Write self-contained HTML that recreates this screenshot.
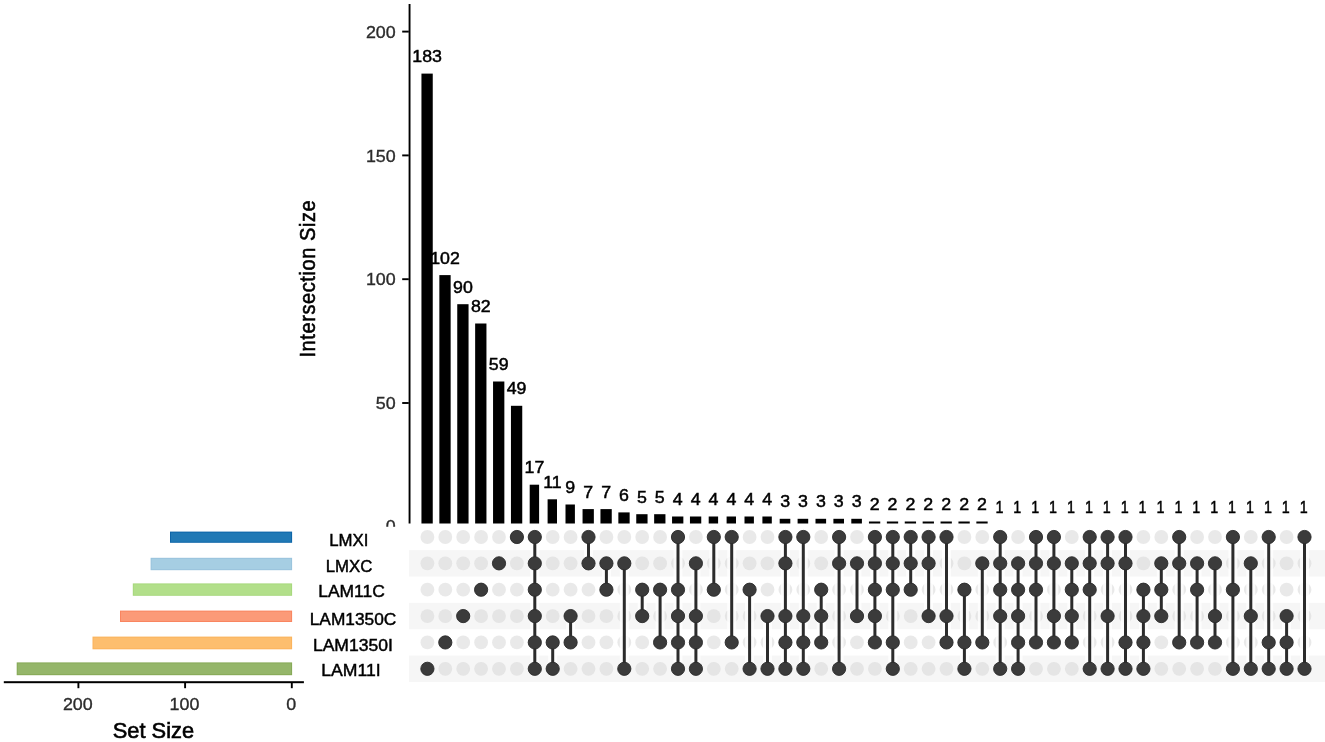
<!DOCTYPE html>
<html lang="en"><head><meta charset="utf-8"><title>UpSet plot</title>
<style>html,body{margin:0;padding:0;background:#fff}body{width:1325px;height:742px;overflow:hidden}svg{display:block;filter:blur(0.45px)}</style>
</head><body>
<svg width="1325" height="742" viewBox="0 0 1325 742" font-family="Liberation Sans, Arial, sans-serif">
<rect width="1325" height="742" fill="#fff"/>
<defs><clipPath id="cz"><rect x="0" y="0" width="405" height="526.7"/></clipPath><clipPath id="cb"><rect x="400" y="0" width="925" height="523.6"/></clipPath></defs>
<g id="isect">
<text transform="translate(315.1,278.6) rotate(-90) scale(1,1.11)" text-anchor="middle" letter-spacing="0.55" font-size="20.1" fill="#000" stroke="#000" stroke-width="0.5">Intersection Size</text>
<g font-size="17" fill="#2c2c2c" stroke="#2c2c2c" stroke-width="0.35" text-anchor="end" clip-path="url(#cz)">
<text transform="translate(395.7,531.8) scale(1.05,1)">0</text>
<text transform="translate(395.7,409.1) scale(1.05,1)">50</text>
<text transform="translate(395.7,285.3) scale(1.05,1)">100</text>
<text transform="translate(395.7,161.5) scale(1.05,1)">150</text>
<text transform="translate(395.7,37.7) scale(1.05,1)">200</text>
</g>
<g clip-path="url(#cb)">
<rect x="408.6" y="4" width="1.9" height="530" fill="#000"/>
<rect x="402.2" y="402.05" width="6.6" height="1.9" fill="#000"/>
<rect x="402.2" y="278.25" width="6.6" height="1.9" fill="#000"/>
<rect x="402.2" y="154.45" width="6.6" height="1.9" fill="#000"/>
<rect x="402.2" y="30.65" width="6.6" height="1.9" fill="#000"/>
<rect x="421.45" y="73.60" width="11.3" height="456.40" fill="#000"/>
<rect x="439.35" y="275.10" width="11.3" height="254.90" fill="#000"/>
<rect x="457.25" y="304.20" width="11.3" height="225.80" fill="#000"/>
<rect x="475.15" y="323.50" width="11.3" height="206.50" fill="#000"/>
<rect x="493.05" y="381.50" width="11.3" height="148.50" fill="#000"/>
<rect x="510.95" y="405.80" width="11.3" height="124.20" fill="#000"/>
<rect x="529.70" y="484.70" width="9.4" height="45.30" fill="#000"/>
<rect x="547.60" y="499.30" width="9.4" height="30.70" fill="#000"/>
<rect x="565.50" y="504.50" width="9.4" height="25.50" fill="#000"/>
<rect x="582.55" y="509.10" width="11.3" height="20.90" fill="#000"/>
<rect x="600.45" y="509.10" width="11.3" height="20.90" fill="#000"/>
<rect x="618.35" y="512.40" width="11.3" height="17.60" fill="#000"/>
<rect x="636.25" y="514.20" width="11.3" height="15.80" fill="#000"/>
<rect x="654.15" y="514.20" width="11.3" height="15.80" fill="#000"/>
<rect x="672.05" y="516.50" width="11.3" height="13.50" fill="#000"/>
<rect x="689.95" y="516.50" width="11.3" height="13.50" fill="#000"/>
<rect x="708.70" y="516.50" width="9.4" height="13.50" fill="#000"/>
<rect x="726.60" y="516.50" width="9.4" height="13.50" fill="#000"/>
<rect x="744.50" y="516.50" width="9.4" height="13.50" fill="#000"/>
<rect x="762.40" y="516.50" width="9.4" height="13.50" fill="#000"/>
<rect x="779.70" y="518.80" width="10.6" height="11.20" fill="#000"/>
<rect x="797.60" y="518.80" width="10.6" height="11.20" fill="#000"/>
<rect x="815.50" y="518.80" width="10.6" height="11.20" fill="#000"/>
<rect x="833.40" y="518.80" width="10.6" height="11.20" fill="#000"/>
<rect x="851.30" y="518.80" width="10.6" height="11.20" fill="#000"/>
<rect x="868.95" y="521.50" width="11.3" height="8.50" fill="#000"/>
<rect x="886.85" y="521.50" width="11.3" height="8.50" fill="#000"/>
<rect x="904.75" y="521.50" width="11.3" height="8.50" fill="#000"/>
<rect x="922.65" y="521.50" width="11.3" height="8.50" fill="#000"/>
<rect x="940.55" y="521.50" width="11.3" height="8.50" fill="#000"/>
<rect x="958.45" y="521.50" width="11.3" height="8.50" fill="#000"/>
<rect x="976.35" y="521.50" width="11.3" height="8.50" fill="#000"/>
<rect x="994.25" y="524.32" width="11.3" height="5.68" fill="#000"/>
<rect x="1012.15" y="524.32" width="11.3" height="5.68" fill="#000"/>
<rect x="1030.05" y="524.32" width="11.3" height="5.68" fill="#000"/>
<rect x="1047.95" y="524.32" width="11.3" height="5.68" fill="#000"/>
<rect x="1065.85" y="524.32" width="11.3" height="5.68" fill="#000"/>
<rect x="1083.75" y="524.32" width="11.3" height="5.68" fill="#000"/>
<rect x="1101.65" y="524.32" width="11.3" height="5.68" fill="#000"/>
<rect x="1119.55" y="524.32" width="11.3" height="5.68" fill="#000"/>
<rect x="1137.45" y="524.32" width="11.3" height="5.68" fill="#000"/>
<rect x="1155.35" y="524.32" width="11.3" height="5.68" fill="#000"/>
<rect x="1173.25" y="524.32" width="11.3" height="5.68" fill="#000"/>
<rect x="1191.15" y="524.32" width="11.3" height="5.68" fill="#000"/>
<rect x="1209.05" y="524.32" width="11.3" height="5.68" fill="#000"/>
<rect x="1226.95" y="524.32" width="11.3" height="5.68" fill="#000"/>
<rect x="1244.85" y="524.32" width="11.3" height="5.68" fill="#000"/>
<rect x="1262.75" y="524.32" width="11.3" height="5.68" fill="#000"/>
<rect x="1280.65" y="524.32" width="11.3" height="5.68" fill="#000"/>
<rect x="1298.55" y="524.32" width="11.3" height="5.68" fill="#000"/>
</g>
<g font-size="15.6" fill="#000" stroke="#000" stroke-width="0.45" text-anchor="middle">
<text transform="translate(427.1,62.2) scale(1.14,1)">183</text>
<text transform="translate(445.0,263.7) scale(1.14,1)">102</text>
<text transform="translate(462.9,292.8) scale(1.14,1)">90</text>
<text transform="translate(480.8,312.1) scale(1.14,1)">82</text>
<text transform="translate(498.7,370.1) scale(1.14,1)">59</text>
<text transform="translate(516.6,394.4) scale(1.14,1)">49</text>
<text transform="translate(534.5,473.3) scale(1.14,1)">17</text>
<text transform="translate(552.4,487.9) scale(1.14,1)">11</text>
<text transform="translate(570.3,493.1) scale(1.14,1)">9</text>
<text transform="translate(588.2,497.7) scale(1.14,1)">7</text>
<text transform="translate(606.1,497.7) scale(1.14,1)">7</text>
<text transform="translate(624.0,501.0) scale(1.14,1)">6</text>
<text transform="translate(641.9,502.8) scale(1.14,1)">5</text>
<text transform="translate(659.8,502.8) scale(1.14,1)">5</text>
<text transform="translate(677.7,505.1) scale(1.14,1)">4</text>
<text transform="translate(695.6,505.1) scale(1.14,1)">4</text>
<text transform="translate(713.5,505.1) scale(1.14,1)">4</text>
<text transform="translate(731.4,505.1) scale(1.14,1)">4</text>
<text transform="translate(749.3,505.1) scale(1.14,1)">4</text>
<text transform="translate(767.2,505.1) scale(1.14,1)">4</text>
<text transform="translate(785.1,507.4) scale(1.14,1)">3</text>
<text transform="translate(803.0,507.4) scale(1.14,1)">3</text>
<text transform="translate(820.9,507.4) scale(1.14,1)">3</text>
<text transform="translate(838.8,507.4) scale(1.14,1)">3</text>
<text transform="translate(856.7,507.4) scale(1.14,1)">3</text>
<text transform="translate(874.6,510.1) scale(1.14,1)">2</text>
<text transform="translate(892.5,510.1) scale(1.14,1)">2</text>
<text transform="translate(910.4,510.1) scale(1.14,1)">2</text>
<text transform="translate(928.3,510.1) scale(1.14,1)">2</text>
<text transform="translate(946.2,510.1) scale(1.14,1)">2</text>
<text transform="translate(964.1,510.1) scale(1.14,1)">2</text>
<text transform="translate(982.0,510.1) scale(1.14,1)">2</text>
<text transform="translate(999.4,512.9) scale(0.92,1)">1</text>
<text transform="translate(1017.3,512.9) scale(0.92,1)">1</text>
<text transform="translate(1035.2,512.9) scale(0.92,1)">1</text>
<text transform="translate(1053.1,512.9) scale(0.92,1)">1</text>
<text transform="translate(1071.0,512.9) scale(0.92,1)">1</text>
<text transform="translate(1088.9,512.9) scale(0.92,1)">1</text>
<text transform="translate(1106.8,512.9) scale(0.92,1)">1</text>
<text transform="translate(1124.7,512.9) scale(0.92,1)">1</text>
<text transform="translate(1142.6,512.9) scale(0.92,1)">1</text>
<text transform="translate(1160.5,512.9) scale(0.92,1)">1</text>
<text transform="translate(1178.4,512.9) scale(0.92,1)">1</text>
<text transform="translate(1196.3,512.9) scale(0.92,1)">1</text>
<text transform="translate(1214.2,512.9) scale(0.92,1)">1</text>
<text transform="translate(1232.1,512.9) scale(0.92,1)">1</text>
<text transform="translate(1250.0,512.9) scale(0.92,1)">1</text>
<text transform="translate(1267.9,512.9) scale(0.92,1)">1</text>
<text transform="translate(1285.8,512.9) scale(0.92,1)">1</text>
<text transform="translate(1303.7,512.9) scale(0.92,1)">1</text>
</g></g>
<g id="matrix">
<rect x="409" y="550.16" width="916" height="26.4" fill="#f6f6f6"/>
<rect x="409" y="602.88" width="916" height="26.4" fill="#f6f6f6"/>
<rect x="409" y="655.60" width="916" height="26.4" fill="#f6f6f6"/>
<g fill="#d4d4d4" fill-opacity="0.5">
<circle cx="427.4" cy="537.00" r="6.9"/>
<circle cx="427.4" cy="563.36" r="6.9"/>
<circle cx="427.4" cy="589.72" r="6.9"/>
<circle cx="427.4" cy="616.08" r="6.9"/>
<circle cx="427.4" cy="642.44" r="6.9"/>
<circle cx="427.4" cy="668.80" r="6.9"/>
<circle cx="445.3" cy="537.00" r="6.9"/>
<circle cx="445.3" cy="563.36" r="6.9"/>
<circle cx="445.3" cy="589.72" r="6.9"/>
<circle cx="445.3" cy="616.08" r="6.9"/>
<circle cx="445.3" cy="642.44" r="6.9"/>
<circle cx="445.3" cy="668.80" r="6.9"/>
<circle cx="463.2" cy="537.00" r="6.9"/>
<circle cx="463.2" cy="563.36" r="6.9"/>
<circle cx="463.2" cy="589.72" r="6.9"/>
<circle cx="463.2" cy="616.08" r="6.9"/>
<circle cx="463.2" cy="642.44" r="6.9"/>
<circle cx="463.2" cy="668.80" r="6.9"/>
<circle cx="481.1" cy="537.00" r="6.9"/>
<circle cx="481.1" cy="563.36" r="6.9"/>
<circle cx="481.1" cy="589.72" r="6.9"/>
<circle cx="481.1" cy="616.08" r="6.9"/>
<circle cx="481.1" cy="642.44" r="6.9"/>
<circle cx="481.1" cy="668.80" r="6.9"/>
<circle cx="499.0" cy="537.00" r="6.9"/>
<circle cx="499.0" cy="563.36" r="6.9"/>
<circle cx="499.0" cy="589.72" r="6.9"/>
<circle cx="499.0" cy="616.08" r="6.9"/>
<circle cx="499.0" cy="642.44" r="6.9"/>
<circle cx="499.0" cy="668.80" r="6.9"/>
<circle cx="516.9" cy="537.00" r="6.9"/>
<circle cx="516.9" cy="563.36" r="6.9"/>
<circle cx="516.9" cy="589.72" r="6.9"/>
<circle cx="516.9" cy="616.08" r="6.9"/>
<circle cx="516.9" cy="642.44" r="6.9"/>
<circle cx="516.9" cy="668.80" r="6.9"/>
<circle cx="534.8" cy="537.00" r="6.9"/>
<circle cx="534.8" cy="563.36" r="6.9"/>
<circle cx="534.8" cy="589.72" r="6.9"/>
<circle cx="534.8" cy="616.08" r="6.9"/>
<circle cx="534.8" cy="642.44" r="6.9"/>
<circle cx="534.8" cy="668.80" r="6.9"/>
<circle cx="552.7" cy="537.00" r="6.9"/>
<circle cx="552.7" cy="563.36" r="6.9"/>
<circle cx="552.7" cy="589.72" r="6.9"/>
<circle cx="552.7" cy="616.08" r="6.9"/>
<circle cx="552.7" cy="642.44" r="6.9"/>
<circle cx="552.7" cy="668.80" r="6.9"/>
<circle cx="570.6" cy="537.00" r="6.9"/>
<circle cx="570.6" cy="563.36" r="6.9"/>
<circle cx="570.6" cy="589.72" r="6.9"/>
<circle cx="570.6" cy="616.08" r="6.9"/>
<circle cx="570.6" cy="642.44" r="6.9"/>
<circle cx="570.6" cy="668.80" r="6.9"/>
<circle cx="588.5" cy="537.00" r="6.9"/>
<circle cx="588.5" cy="563.36" r="6.9"/>
<circle cx="588.5" cy="589.72" r="6.9"/>
<circle cx="588.5" cy="616.08" r="6.9"/>
<circle cx="588.5" cy="642.44" r="6.9"/>
<circle cx="588.5" cy="668.80" r="6.9"/>
<circle cx="606.4" cy="537.00" r="6.9"/>
<circle cx="606.4" cy="563.36" r="6.9"/>
<circle cx="606.4" cy="589.72" r="6.9"/>
<circle cx="606.4" cy="616.08" r="6.9"/>
<circle cx="606.4" cy="642.44" r="6.9"/>
<circle cx="606.4" cy="668.80" r="6.9"/>
<circle cx="624.3" cy="537.00" r="6.9"/>
<circle cx="624.3" cy="563.36" r="6.9"/>
<circle cx="624.3" cy="589.72" r="6.9"/>
<circle cx="624.3" cy="616.08" r="6.9"/>
<circle cx="624.3" cy="642.44" r="6.9"/>
<circle cx="624.3" cy="668.80" r="6.9"/>
<circle cx="642.2" cy="537.00" r="6.9"/>
<circle cx="642.2" cy="563.36" r="6.9"/>
<circle cx="642.2" cy="589.72" r="6.9"/>
<circle cx="642.2" cy="616.08" r="6.9"/>
<circle cx="642.2" cy="642.44" r="6.9"/>
<circle cx="642.2" cy="668.80" r="6.9"/>
<circle cx="660.1" cy="537.00" r="6.9"/>
<circle cx="660.1" cy="563.36" r="6.9"/>
<circle cx="660.1" cy="589.72" r="6.9"/>
<circle cx="660.1" cy="616.08" r="6.9"/>
<circle cx="660.1" cy="642.44" r="6.9"/>
<circle cx="660.1" cy="668.80" r="6.9"/>
<circle cx="678.0" cy="537.00" r="6.9"/>
<circle cx="678.0" cy="563.36" r="6.9"/>
<circle cx="678.0" cy="589.72" r="6.9"/>
<circle cx="678.0" cy="616.08" r="6.9"/>
<circle cx="678.0" cy="642.44" r="6.9"/>
<circle cx="678.0" cy="668.80" r="6.9"/>
<circle cx="695.9" cy="537.00" r="6.9"/>
<circle cx="695.9" cy="563.36" r="6.9"/>
<circle cx="695.9" cy="589.72" r="6.9"/>
<circle cx="695.9" cy="616.08" r="6.9"/>
<circle cx="695.9" cy="642.44" r="6.9"/>
<circle cx="695.9" cy="668.80" r="6.9"/>
<circle cx="713.8" cy="537.00" r="6.9"/>
<circle cx="713.8" cy="563.36" r="6.9"/>
<circle cx="713.8" cy="589.72" r="6.9"/>
<circle cx="713.8" cy="616.08" r="6.9"/>
<circle cx="713.8" cy="642.44" r="6.9"/>
<circle cx="713.8" cy="668.80" r="6.9"/>
<circle cx="731.7" cy="537.00" r="6.9"/>
<circle cx="731.7" cy="563.36" r="6.9"/>
<circle cx="731.7" cy="589.72" r="6.9"/>
<circle cx="731.7" cy="616.08" r="6.9"/>
<circle cx="731.7" cy="642.44" r="6.9"/>
<circle cx="731.7" cy="668.80" r="6.9"/>
<circle cx="749.6" cy="537.00" r="6.9"/>
<circle cx="749.6" cy="563.36" r="6.9"/>
<circle cx="749.6" cy="589.72" r="6.9"/>
<circle cx="749.6" cy="616.08" r="6.9"/>
<circle cx="749.6" cy="642.44" r="6.9"/>
<circle cx="749.6" cy="668.80" r="6.9"/>
<circle cx="767.5" cy="537.00" r="6.9"/>
<circle cx="767.5" cy="563.36" r="6.9"/>
<circle cx="767.5" cy="589.72" r="6.9"/>
<circle cx="767.5" cy="616.08" r="6.9"/>
<circle cx="767.5" cy="642.44" r="6.9"/>
<circle cx="767.5" cy="668.80" r="6.9"/>
<circle cx="785.4" cy="537.00" r="6.9"/>
<circle cx="785.4" cy="563.36" r="6.9"/>
<circle cx="785.4" cy="589.72" r="6.9"/>
<circle cx="785.4" cy="616.08" r="6.9"/>
<circle cx="785.4" cy="642.44" r="6.9"/>
<circle cx="785.4" cy="668.80" r="6.9"/>
<circle cx="803.3" cy="537.00" r="6.9"/>
<circle cx="803.3" cy="563.36" r="6.9"/>
<circle cx="803.3" cy="589.72" r="6.9"/>
<circle cx="803.3" cy="616.08" r="6.9"/>
<circle cx="803.3" cy="642.44" r="6.9"/>
<circle cx="803.3" cy="668.80" r="6.9"/>
<circle cx="821.2" cy="537.00" r="6.9"/>
<circle cx="821.2" cy="563.36" r="6.9"/>
<circle cx="821.2" cy="589.72" r="6.9"/>
<circle cx="821.2" cy="616.08" r="6.9"/>
<circle cx="821.2" cy="642.44" r="6.9"/>
<circle cx="821.2" cy="668.80" r="6.9"/>
<circle cx="839.1" cy="537.00" r="6.9"/>
<circle cx="839.1" cy="563.36" r="6.9"/>
<circle cx="839.1" cy="589.72" r="6.9"/>
<circle cx="839.1" cy="616.08" r="6.9"/>
<circle cx="839.1" cy="642.44" r="6.9"/>
<circle cx="839.1" cy="668.80" r="6.9"/>
<circle cx="857.0" cy="537.00" r="6.9"/>
<circle cx="857.0" cy="563.36" r="6.9"/>
<circle cx="857.0" cy="589.72" r="6.9"/>
<circle cx="857.0" cy="616.08" r="6.9"/>
<circle cx="857.0" cy="642.44" r="6.9"/>
<circle cx="857.0" cy="668.80" r="6.9"/>
<circle cx="874.9" cy="537.00" r="6.9"/>
<circle cx="874.9" cy="563.36" r="6.9"/>
<circle cx="874.9" cy="589.72" r="6.9"/>
<circle cx="874.9" cy="616.08" r="6.9"/>
<circle cx="874.9" cy="642.44" r="6.9"/>
<circle cx="874.9" cy="668.80" r="6.9"/>
<circle cx="892.8" cy="537.00" r="6.9"/>
<circle cx="892.8" cy="563.36" r="6.9"/>
<circle cx="892.8" cy="589.72" r="6.9"/>
<circle cx="892.8" cy="616.08" r="6.9"/>
<circle cx="892.8" cy="642.44" r="6.9"/>
<circle cx="892.8" cy="668.80" r="6.9"/>
<circle cx="910.7" cy="537.00" r="6.9"/>
<circle cx="910.7" cy="563.36" r="6.9"/>
<circle cx="910.7" cy="589.72" r="6.9"/>
<circle cx="910.7" cy="616.08" r="6.9"/>
<circle cx="910.7" cy="642.44" r="6.9"/>
<circle cx="910.7" cy="668.80" r="6.9"/>
<circle cx="928.6" cy="537.00" r="6.9"/>
<circle cx="928.6" cy="563.36" r="6.9"/>
<circle cx="928.6" cy="589.72" r="6.9"/>
<circle cx="928.6" cy="616.08" r="6.9"/>
<circle cx="928.6" cy="642.44" r="6.9"/>
<circle cx="928.6" cy="668.80" r="6.9"/>
<circle cx="946.5" cy="537.00" r="6.9"/>
<circle cx="946.5" cy="563.36" r="6.9"/>
<circle cx="946.5" cy="589.72" r="6.9"/>
<circle cx="946.5" cy="616.08" r="6.9"/>
<circle cx="946.5" cy="642.44" r="6.9"/>
<circle cx="946.5" cy="668.80" r="6.9"/>
<circle cx="964.4" cy="537.00" r="6.9"/>
<circle cx="964.4" cy="563.36" r="6.9"/>
<circle cx="964.4" cy="589.72" r="6.9"/>
<circle cx="964.4" cy="616.08" r="6.9"/>
<circle cx="964.4" cy="642.44" r="6.9"/>
<circle cx="964.4" cy="668.80" r="6.9"/>
<circle cx="982.3" cy="537.00" r="6.9"/>
<circle cx="982.3" cy="563.36" r="6.9"/>
<circle cx="982.3" cy="589.72" r="6.9"/>
<circle cx="982.3" cy="616.08" r="6.9"/>
<circle cx="982.3" cy="642.44" r="6.9"/>
<circle cx="982.3" cy="668.80" r="6.9"/>
<circle cx="1000.2" cy="537.00" r="6.9"/>
<circle cx="1000.2" cy="563.36" r="6.9"/>
<circle cx="1000.2" cy="589.72" r="6.9"/>
<circle cx="1000.2" cy="616.08" r="6.9"/>
<circle cx="1000.2" cy="642.44" r="6.9"/>
<circle cx="1000.2" cy="668.80" r="6.9"/>
<circle cx="1018.1" cy="537.00" r="6.9"/>
<circle cx="1018.1" cy="563.36" r="6.9"/>
<circle cx="1018.1" cy="589.72" r="6.9"/>
<circle cx="1018.1" cy="616.08" r="6.9"/>
<circle cx="1018.1" cy="642.44" r="6.9"/>
<circle cx="1018.1" cy="668.80" r="6.9"/>
<circle cx="1036.0" cy="537.00" r="6.9"/>
<circle cx="1036.0" cy="563.36" r="6.9"/>
<circle cx="1036.0" cy="589.72" r="6.9"/>
<circle cx="1036.0" cy="616.08" r="6.9"/>
<circle cx="1036.0" cy="642.44" r="6.9"/>
<circle cx="1036.0" cy="668.80" r="6.9"/>
<circle cx="1053.9" cy="537.00" r="6.9"/>
<circle cx="1053.9" cy="563.36" r="6.9"/>
<circle cx="1053.9" cy="589.72" r="6.9"/>
<circle cx="1053.9" cy="616.08" r="6.9"/>
<circle cx="1053.9" cy="642.44" r="6.9"/>
<circle cx="1053.9" cy="668.80" r="6.9"/>
<circle cx="1071.8" cy="537.00" r="6.9"/>
<circle cx="1071.8" cy="563.36" r="6.9"/>
<circle cx="1071.8" cy="589.72" r="6.9"/>
<circle cx="1071.8" cy="616.08" r="6.9"/>
<circle cx="1071.8" cy="642.44" r="6.9"/>
<circle cx="1071.8" cy="668.80" r="6.9"/>
<circle cx="1089.7" cy="537.00" r="6.9"/>
<circle cx="1089.7" cy="563.36" r="6.9"/>
<circle cx="1089.7" cy="589.72" r="6.9"/>
<circle cx="1089.7" cy="616.08" r="6.9"/>
<circle cx="1089.7" cy="642.44" r="6.9"/>
<circle cx="1089.7" cy="668.80" r="6.9"/>
<circle cx="1107.6" cy="537.00" r="6.9"/>
<circle cx="1107.6" cy="563.36" r="6.9"/>
<circle cx="1107.6" cy="589.72" r="6.9"/>
<circle cx="1107.6" cy="616.08" r="6.9"/>
<circle cx="1107.6" cy="642.44" r="6.9"/>
<circle cx="1107.6" cy="668.80" r="6.9"/>
<circle cx="1125.5" cy="537.00" r="6.9"/>
<circle cx="1125.5" cy="563.36" r="6.9"/>
<circle cx="1125.5" cy="589.72" r="6.9"/>
<circle cx="1125.5" cy="616.08" r="6.9"/>
<circle cx="1125.5" cy="642.44" r="6.9"/>
<circle cx="1125.5" cy="668.80" r="6.9"/>
<circle cx="1143.4" cy="537.00" r="6.9"/>
<circle cx="1143.4" cy="563.36" r="6.9"/>
<circle cx="1143.4" cy="589.72" r="6.9"/>
<circle cx="1143.4" cy="616.08" r="6.9"/>
<circle cx="1143.4" cy="642.44" r="6.9"/>
<circle cx="1143.4" cy="668.80" r="6.9"/>
<circle cx="1161.3" cy="537.00" r="6.9"/>
<circle cx="1161.3" cy="563.36" r="6.9"/>
<circle cx="1161.3" cy="589.72" r="6.9"/>
<circle cx="1161.3" cy="616.08" r="6.9"/>
<circle cx="1161.3" cy="642.44" r="6.9"/>
<circle cx="1161.3" cy="668.80" r="6.9"/>
<circle cx="1179.2" cy="537.00" r="6.9"/>
<circle cx="1179.2" cy="563.36" r="6.9"/>
<circle cx="1179.2" cy="589.72" r="6.9"/>
<circle cx="1179.2" cy="616.08" r="6.9"/>
<circle cx="1179.2" cy="642.44" r="6.9"/>
<circle cx="1179.2" cy="668.80" r="6.9"/>
<circle cx="1197.1" cy="537.00" r="6.9"/>
<circle cx="1197.1" cy="563.36" r="6.9"/>
<circle cx="1197.1" cy="589.72" r="6.9"/>
<circle cx="1197.1" cy="616.08" r="6.9"/>
<circle cx="1197.1" cy="642.44" r="6.9"/>
<circle cx="1197.1" cy="668.80" r="6.9"/>
<circle cx="1215.0" cy="537.00" r="6.9"/>
<circle cx="1215.0" cy="563.36" r="6.9"/>
<circle cx="1215.0" cy="589.72" r="6.9"/>
<circle cx="1215.0" cy="616.08" r="6.9"/>
<circle cx="1215.0" cy="642.44" r="6.9"/>
<circle cx="1215.0" cy="668.80" r="6.9"/>
<circle cx="1232.9" cy="537.00" r="6.9"/>
<circle cx="1232.9" cy="563.36" r="6.9"/>
<circle cx="1232.9" cy="589.72" r="6.9"/>
<circle cx="1232.9" cy="616.08" r="6.9"/>
<circle cx="1232.9" cy="642.44" r="6.9"/>
<circle cx="1232.9" cy="668.80" r="6.9"/>
<circle cx="1250.8" cy="537.00" r="6.9"/>
<circle cx="1250.8" cy="563.36" r="6.9"/>
<circle cx="1250.8" cy="589.72" r="6.9"/>
<circle cx="1250.8" cy="616.08" r="6.9"/>
<circle cx="1250.8" cy="642.44" r="6.9"/>
<circle cx="1250.8" cy="668.80" r="6.9"/>
<circle cx="1268.7" cy="537.00" r="6.9"/>
<circle cx="1268.7" cy="563.36" r="6.9"/>
<circle cx="1268.7" cy="589.72" r="6.9"/>
<circle cx="1268.7" cy="616.08" r="6.9"/>
<circle cx="1268.7" cy="642.44" r="6.9"/>
<circle cx="1268.7" cy="668.80" r="6.9"/>
<circle cx="1286.6" cy="537.00" r="6.9"/>
<circle cx="1286.6" cy="563.36" r="6.9"/>
<circle cx="1286.6" cy="589.72" r="6.9"/>
<circle cx="1286.6" cy="616.08" r="6.9"/>
<circle cx="1286.6" cy="642.44" r="6.9"/>
<circle cx="1286.6" cy="668.80" r="6.9"/>
<circle cx="1304.5" cy="537.00" r="6.9"/>
<circle cx="1304.5" cy="563.36" r="6.9"/>
<circle cx="1304.5" cy="589.72" r="6.9"/>
<circle cx="1304.5" cy="616.08" r="6.9"/>
<circle cx="1304.5" cy="642.44" r="6.9"/>
<circle cx="1304.5" cy="668.80" r="6.9"/>
</g>
<g stroke="#fff" stroke-width="9" stroke-opacity="0.8">
<line x1="534.8" x2="534.8" y1="537.00" y2="668.80"/>
<line x1="552.7" x2="552.7" y1="642.44" y2="668.80"/>
<line x1="570.6" x2="570.6" y1="616.08" y2="642.44"/>
<line x1="588.5" x2="588.5" y1="537.00" y2="563.36"/>
<line x1="606.4" x2="606.4" y1="563.36" y2="589.72"/>
<line x1="624.3" x2="624.3" y1="563.36" y2="668.80"/>
<line x1="642.2" x2="642.2" y1="589.72" y2="616.08"/>
<line x1="660.1" x2="660.1" y1="589.72" y2="642.44"/>
<line x1="678.0" x2="678.0" y1="537.00" y2="668.80"/>
<line x1="695.9" x2="695.9" y1="563.36" y2="668.80"/>
<line x1="713.8" x2="713.8" y1="537.00" y2="589.72"/>
<line x1="731.7" x2="731.7" y1="537.00" y2="642.44"/>
<line x1="749.6" x2="749.6" y1="589.72" y2="668.80"/>
<line x1="767.5" x2="767.5" y1="616.08" y2="668.80"/>
<line x1="785.4" x2="785.4" y1="537.00" y2="668.80"/>
<line x1="803.3" x2="803.3" y1="537.00" y2="668.80"/>
<line x1="821.2" x2="821.2" y1="589.72" y2="642.44"/>
<line x1="839.1" x2="839.1" y1="537.00" y2="668.80"/>
<line x1="857.0" x2="857.0" y1="563.36" y2="616.08"/>
<line x1="874.9" x2="874.9" y1="537.00" y2="642.44"/>
<line x1="892.8" x2="892.8" y1="537.00" y2="668.80"/>
<line x1="910.7" x2="910.7" y1="537.00" y2="589.72"/>
<line x1="928.6" x2="928.6" y1="537.00" y2="616.08"/>
<line x1="946.5" x2="946.5" y1="537.00" y2="642.44"/>
<line x1="964.4" x2="964.4" y1="589.72" y2="668.80"/>
<line x1="982.3" x2="982.3" y1="563.36" y2="642.44"/>
<line x1="1000.2" x2="1000.2" y1="537.00" y2="668.80"/>
<line x1="1018.1" x2="1018.1" y1="563.36" y2="668.80"/>
<line x1="1036.0" x2="1036.0" y1="537.00" y2="642.44"/>
<line x1="1053.9" x2="1053.9" y1="537.00" y2="642.44"/>
<line x1="1071.8" x2="1071.8" y1="563.36" y2="642.44"/>
<line x1="1089.7" x2="1089.7" y1="537.00" y2="668.80"/>
<line x1="1107.6" x2="1107.6" y1="537.00" y2="668.80"/>
<line x1="1125.5" x2="1125.5" y1="537.00" y2="668.80"/>
<line x1="1143.4" x2="1143.4" y1="589.72" y2="668.80"/>
<line x1="1161.3" x2="1161.3" y1="563.36" y2="616.08"/>
<line x1="1179.2" x2="1179.2" y1="537.00" y2="642.44"/>
<line x1="1197.1" x2="1197.1" y1="563.36" y2="642.44"/>
<line x1="1215.0" x2="1215.0" y1="563.36" y2="642.44"/>
<line x1="1232.9" x2="1232.9" y1="537.00" y2="668.80"/>
<line x1="1250.8" x2="1250.8" y1="563.36" y2="668.80"/>
<line x1="1268.7" x2="1268.7" y1="537.00" y2="668.80"/>
<line x1="1286.6" x2="1286.6" y1="616.08" y2="668.80"/>
<line x1="1304.5" x2="1304.5" y1="537.00" y2="668.80"/>
</g>
<g stroke="#2c2c2c" stroke-width="3">
<line x1="534.8" x2="534.8" y1="537.00" y2="668.80"/>
<line x1="552.7" x2="552.7" y1="642.44" y2="668.80"/>
<line x1="570.6" x2="570.6" y1="616.08" y2="642.44"/>
<line x1="588.5" x2="588.5" y1="537.00" y2="563.36"/>
<line x1="606.4" x2="606.4" y1="563.36" y2="589.72"/>
<line x1="624.3" x2="624.3" y1="563.36" y2="668.80"/>
<line x1="642.2" x2="642.2" y1="589.72" y2="616.08"/>
<line x1="660.1" x2="660.1" y1="589.72" y2="642.44"/>
<line x1="678.0" x2="678.0" y1="537.00" y2="668.80"/>
<line x1="695.9" x2="695.9" y1="563.36" y2="668.80"/>
<line x1="713.8" x2="713.8" y1="537.00" y2="589.72"/>
<line x1="731.7" x2="731.7" y1="537.00" y2="642.44"/>
<line x1="749.6" x2="749.6" y1="589.72" y2="668.80"/>
<line x1="767.5" x2="767.5" y1="616.08" y2="668.80"/>
<line x1="785.4" x2="785.4" y1="537.00" y2="668.80"/>
<line x1="803.3" x2="803.3" y1="537.00" y2="668.80"/>
<line x1="821.2" x2="821.2" y1="589.72" y2="642.44"/>
<line x1="839.1" x2="839.1" y1="537.00" y2="668.80"/>
<line x1="857.0" x2="857.0" y1="563.36" y2="616.08"/>
<line x1="874.9" x2="874.9" y1="537.00" y2="642.44"/>
<line x1="892.8" x2="892.8" y1="537.00" y2="668.80"/>
<line x1="910.7" x2="910.7" y1="537.00" y2="589.72"/>
<line x1="928.6" x2="928.6" y1="537.00" y2="616.08"/>
<line x1="946.5" x2="946.5" y1="537.00" y2="642.44"/>
<line x1="964.4" x2="964.4" y1="589.72" y2="668.80"/>
<line x1="982.3" x2="982.3" y1="563.36" y2="642.44"/>
<line x1="1000.2" x2="1000.2" y1="537.00" y2="668.80"/>
<line x1="1018.1" x2="1018.1" y1="563.36" y2="668.80"/>
<line x1="1036.0" x2="1036.0" y1="537.00" y2="642.44"/>
<line x1="1053.9" x2="1053.9" y1="537.00" y2="642.44"/>
<line x1="1071.8" x2="1071.8" y1="563.36" y2="642.44"/>
<line x1="1089.7" x2="1089.7" y1="537.00" y2="668.80"/>
<line x1="1107.6" x2="1107.6" y1="537.00" y2="668.80"/>
<line x1="1125.5" x2="1125.5" y1="537.00" y2="668.80"/>
<line x1="1143.4" x2="1143.4" y1="589.72" y2="668.80"/>
<line x1="1161.3" x2="1161.3" y1="563.36" y2="616.08"/>
<line x1="1179.2" x2="1179.2" y1="537.00" y2="642.44"/>
<line x1="1197.1" x2="1197.1" y1="563.36" y2="642.44"/>
<line x1="1215.0" x2="1215.0" y1="563.36" y2="642.44"/>
<line x1="1232.9" x2="1232.9" y1="537.00" y2="668.80"/>
<line x1="1250.8" x2="1250.8" y1="563.36" y2="668.80"/>
<line x1="1268.7" x2="1268.7" y1="537.00" y2="668.80"/>
<line x1="1286.6" x2="1286.6" y1="616.08" y2="668.80"/>
<line x1="1304.5" x2="1304.5" y1="537.00" y2="668.80"/>
</g><g fill="#3b3b3b" stroke="#2a2a2a" stroke-width="0.9">
<circle cx="427.4" cy="668.80" r="6.6"/>
<circle cx="445.3" cy="642.44" r="6.6"/>
<circle cx="463.2" cy="616.08" r="6.6"/>
<circle cx="481.1" cy="589.72" r="6.6"/>
<circle cx="499.0" cy="563.36" r="6.6"/>
<circle cx="516.9" cy="537.00" r="6.6"/>
<circle cx="534.8" cy="537.00" r="6.6"/>
<circle cx="534.8" cy="563.36" r="6.6"/>
<circle cx="534.8" cy="589.72" r="6.6"/>
<circle cx="534.8" cy="616.08" r="6.6"/>
<circle cx="534.8" cy="642.44" r="6.6"/>
<circle cx="534.8" cy="668.80" r="6.6"/>
<circle cx="552.7" cy="642.44" r="6.6"/>
<circle cx="552.7" cy="668.80" r="6.6"/>
<circle cx="570.6" cy="616.08" r="6.6"/>
<circle cx="570.6" cy="642.44" r="6.6"/>
<circle cx="588.5" cy="537.00" r="6.6"/>
<circle cx="588.5" cy="563.36" r="6.6"/>
<circle cx="606.4" cy="563.36" r="6.6"/>
<circle cx="606.4" cy="589.72" r="6.6"/>
<circle cx="624.3" cy="563.36" r="6.6"/>
<circle cx="624.3" cy="668.80" r="6.6"/>
<circle cx="642.2" cy="589.72" r="6.6"/>
<circle cx="642.2" cy="616.08" r="6.6"/>
<circle cx="660.1" cy="589.72" r="6.6"/>
<circle cx="660.1" cy="642.44" r="6.6"/>
<circle cx="678.0" cy="537.00" r="6.6"/>
<circle cx="678.0" cy="589.72" r="6.6"/>
<circle cx="678.0" cy="616.08" r="6.6"/>
<circle cx="678.0" cy="642.44" r="6.6"/>
<circle cx="678.0" cy="668.80" r="6.6"/>
<circle cx="695.9" cy="563.36" r="6.6"/>
<circle cx="695.9" cy="616.08" r="6.6"/>
<circle cx="695.9" cy="642.44" r="6.6"/>
<circle cx="695.9" cy="668.80" r="6.6"/>
<circle cx="713.8" cy="537.00" r="6.6"/>
<circle cx="713.8" cy="589.72" r="6.6"/>
<circle cx="731.7" cy="537.00" r="6.6"/>
<circle cx="731.7" cy="642.44" r="6.6"/>
<circle cx="749.6" cy="589.72" r="6.6"/>
<circle cx="749.6" cy="668.80" r="6.6"/>
<circle cx="767.5" cy="616.08" r="6.6"/>
<circle cx="767.5" cy="668.80" r="6.6"/>
<circle cx="785.4" cy="537.00" r="6.6"/>
<circle cx="785.4" cy="563.36" r="6.6"/>
<circle cx="785.4" cy="616.08" r="6.6"/>
<circle cx="785.4" cy="642.44" r="6.6"/>
<circle cx="785.4" cy="668.80" r="6.6"/>
<circle cx="803.3" cy="537.00" r="6.6"/>
<circle cx="803.3" cy="616.08" r="6.6"/>
<circle cx="803.3" cy="642.44" r="6.6"/>
<circle cx="803.3" cy="668.80" r="6.6"/>
<circle cx="821.2" cy="589.72" r="6.6"/>
<circle cx="821.2" cy="616.08" r="6.6"/>
<circle cx="821.2" cy="642.44" r="6.6"/>
<circle cx="839.1" cy="537.00" r="6.6"/>
<circle cx="839.1" cy="563.36" r="6.6"/>
<circle cx="839.1" cy="668.80" r="6.6"/>
<circle cx="857.0" cy="563.36" r="6.6"/>
<circle cx="857.0" cy="616.08" r="6.6"/>
<circle cx="874.9" cy="537.00" r="6.6"/>
<circle cx="874.9" cy="563.36" r="6.6"/>
<circle cx="874.9" cy="589.72" r="6.6"/>
<circle cx="874.9" cy="616.08" r="6.6"/>
<circle cx="874.9" cy="642.44" r="6.6"/>
<circle cx="892.8" cy="537.00" r="6.6"/>
<circle cx="892.8" cy="563.36" r="6.6"/>
<circle cx="892.8" cy="589.72" r="6.6"/>
<circle cx="892.8" cy="642.44" r="6.6"/>
<circle cx="892.8" cy="668.80" r="6.6"/>
<circle cx="910.7" cy="537.00" r="6.6"/>
<circle cx="910.7" cy="563.36" r="6.6"/>
<circle cx="910.7" cy="589.72" r="6.6"/>
<circle cx="928.6" cy="537.00" r="6.6"/>
<circle cx="928.6" cy="563.36" r="6.6"/>
<circle cx="928.6" cy="616.08" r="6.6"/>
<circle cx="946.5" cy="537.00" r="6.6"/>
<circle cx="946.5" cy="616.08" r="6.6"/>
<circle cx="946.5" cy="642.44" r="6.6"/>
<circle cx="964.4" cy="589.72" r="6.6"/>
<circle cx="964.4" cy="642.44" r="6.6"/>
<circle cx="964.4" cy="668.80" r="6.6"/>
<circle cx="982.3" cy="563.36" r="6.6"/>
<circle cx="982.3" cy="642.44" r="6.6"/>
<circle cx="1000.2" cy="537.00" r="6.6"/>
<circle cx="1000.2" cy="563.36" r="6.6"/>
<circle cx="1000.2" cy="589.72" r="6.6"/>
<circle cx="1000.2" cy="616.08" r="6.6"/>
<circle cx="1000.2" cy="668.80" r="6.6"/>
<circle cx="1018.1" cy="563.36" r="6.6"/>
<circle cx="1018.1" cy="589.72" r="6.6"/>
<circle cx="1018.1" cy="616.08" r="6.6"/>
<circle cx="1018.1" cy="642.44" r="6.6"/>
<circle cx="1018.1" cy="668.80" r="6.6"/>
<circle cx="1036.0" cy="537.00" r="6.6"/>
<circle cx="1036.0" cy="563.36" r="6.6"/>
<circle cx="1036.0" cy="589.72" r="6.6"/>
<circle cx="1036.0" cy="642.44" r="6.6"/>
<circle cx="1053.9" cy="537.00" r="6.6"/>
<circle cx="1053.9" cy="563.36" r="6.6"/>
<circle cx="1053.9" cy="616.08" r="6.6"/>
<circle cx="1053.9" cy="642.44" r="6.6"/>
<circle cx="1071.8" cy="563.36" r="6.6"/>
<circle cx="1071.8" cy="589.72" r="6.6"/>
<circle cx="1071.8" cy="616.08" r="6.6"/>
<circle cx="1071.8" cy="642.44" r="6.6"/>
<circle cx="1089.7" cy="537.00" r="6.6"/>
<circle cx="1089.7" cy="563.36" r="6.6"/>
<circle cx="1089.7" cy="589.72" r="6.6"/>
<circle cx="1089.7" cy="668.80" r="6.6"/>
<circle cx="1107.6" cy="537.00" r="6.6"/>
<circle cx="1107.6" cy="563.36" r="6.6"/>
<circle cx="1107.6" cy="616.08" r="6.6"/>
<circle cx="1107.6" cy="668.80" r="6.6"/>
<circle cx="1125.5" cy="537.00" r="6.6"/>
<circle cx="1125.5" cy="563.36" r="6.6"/>
<circle cx="1125.5" cy="642.44" r="6.6"/>
<circle cx="1125.5" cy="668.80" r="6.6"/>
<circle cx="1143.4" cy="589.72" r="6.6"/>
<circle cx="1143.4" cy="616.08" r="6.6"/>
<circle cx="1143.4" cy="642.44" r="6.6"/>
<circle cx="1143.4" cy="668.80" r="6.6"/>
<circle cx="1161.3" cy="563.36" r="6.6"/>
<circle cx="1161.3" cy="589.72" r="6.6"/>
<circle cx="1161.3" cy="616.08" r="6.6"/>
<circle cx="1179.2" cy="537.00" r="6.6"/>
<circle cx="1179.2" cy="563.36" r="6.6"/>
<circle cx="1179.2" cy="642.44" r="6.6"/>
<circle cx="1197.1" cy="563.36" r="6.6"/>
<circle cx="1197.1" cy="589.72" r="6.6"/>
<circle cx="1197.1" cy="642.44" r="6.6"/>
<circle cx="1215.0" cy="563.36" r="6.6"/>
<circle cx="1215.0" cy="616.08" r="6.6"/>
<circle cx="1215.0" cy="642.44" r="6.6"/>
<circle cx="1232.9" cy="537.00" r="6.6"/>
<circle cx="1232.9" cy="589.72" r="6.6"/>
<circle cx="1232.9" cy="668.80" r="6.6"/>
<circle cx="1250.8" cy="563.36" r="6.6"/>
<circle cx="1250.8" cy="616.08" r="6.6"/>
<circle cx="1250.8" cy="668.80" r="6.6"/>
<circle cx="1268.7" cy="537.00" r="6.6"/>
<circle cx="1268.7" cy="642.44" r="6.6"/>
<circle cx="1268.7" cy="668.80" r="6.6"/>
<circle cx="1286.6" cy="616.08" r="6.6"/>
<circle cx="1286.6" cy="642.44" r="6.6"/>
<circle cx="1286.6" cy="668.80" r="6.6"/>
<circle cx="1304.5" cy="537.00" r="6.6"/>
<circle cx="1304.5" cy="668.80" r="6.6"/>
</g></g>
<g id="sets">
<rect x="170.00" y="531.6" width="122.10" height="11.20" fill="#0D65A8"/>
<rect x="171.00" y="532.6" width="120.10" height="9.20" fill="#2179B5"/>
<rect x="150.60" y="557.8" width="141.50" height="12.40" fill="#9AC4DD"/>
<rect x="151.60" y="558.8" width="139.50" height="10.40" fill="#A6CEE3"/>
<rect x="132.80" y="583.4" width="159.30" height="12.40" fill="#A7D87D"/>
<rect x="133.80" y="584.4" width="157.30" height="10.40" fill="#B2DF8A"/>
<rect x="120.00" y="610.6" width="172.10" height="11.40" fill="#F98560"/>
<rect x="121.00" y="611.6" width="170.10" height="9.40" fill="#FB9A78"/>
<rect x="92.50" y="636.6" width="199.60" height="12.70" fill="#FBB35C"/>
<rect x="93.50" y="637.6" width="197.60" height="10.70" fill="#FDBE6E"/>
<rect x="16.70" y="662.4" width="275.40" height="12.80" fill="#86A957"/>
<rect x="17.70" y="663.4" width="273.40" height="10.80" fill="#95B66A"/>
<g font-size="16.8" fill="#000" stroke="#000" stroke-width="0.45" text-anchor="middle">
<text transform="translate(348.8,546.0) scale(1,1)">LMXI</text>
<text transform="translate(349.0,572.2) scale(1,1)">LMXC</text>
<text transform="translate(351.5,596.9) scale(1.04,1)">LAM11C</text>
<text transform="translate(353.0,625.0) scale(1.03,1)">LAM1350C</text>
<text transform="translate(352.9,651.0) scale(1.045,1)">LAM1350I</text>
<text transform="translate(351.0,676.4) scale(1.05,1)">LAM11I</text>
</g>
<rect x="3.8" y="681.2" width="300.1" height="2" fill="#000"/>
<g font-size="17" fill="#2c2c2c" stroke="#2c2c2c" stroke-width="0.35" text-anchor="middle">
<rect x="290.85" y="682" width="1.9" height="6.2" fill="#000" stroke="none"/>
<text transform="translate(291.2,710.4) scale(1.05,1)">0</text>
<rect x="184.15" y="682" width="1.9" height="6.2" fill="#000" stroke="none"/>
<text transform="translate(184.5,710.4) scale(1.05,1)">100</text>
<rect x="77.45" y="682" width="1.9" height="6.2" fill="#000" stroke="none"/>
<text transform="translate(77.8,710.4) scale(1.05,1)">200</text>
</g>
<text transform="translate(153.4,738.2) scale(1.025,1.01)" text-anchor="middle" font-size="21.3" fill="#000" stroke="#000" stroke-width="0.6">Set Size</text>
</g>
</svg>
</body></html>
